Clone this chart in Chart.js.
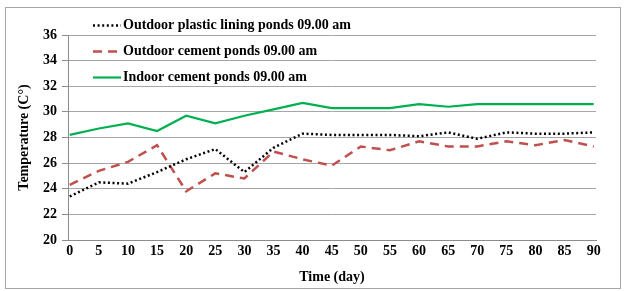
<!DOCTYPE html>
<html>
<head>
<meta charset="utf-8">
<script src="https://cdn.jsdelivr.net/npm/chart.js@4/dist/chart.umd.min.js"></script>
<style>
html,body{margin:0;padding:0;background:#fff;}
#wrap{width:627px;height:291px;position:relative;}
</style>
</head>
<body>
<div id="wrap"><canvas id="c" width="627" height="291"></canvas></div>
<script>
const days = [0,5,10,15,20,25,30,35,40,45,50,55,60,65,70,75,80,85,90];
const yTicks = [20,22,24,26,28,30,32,34,36];
const seriesNames = [
  'Outdoor plastic lining ponds 09.00 am',
  'Outdoor cement ponds 09.00 am',
  'Indoor cement ponds 09.00 am'
];
const plasticOutdoor = [23.4,24.5,24.4,25.3,26.3,27.1,25.3,27.2,28.3,28.2,28.2,28.2,28.1,28.4,27.9,28.4,28.3,28.3,28.4];
const cementOutdoor  = [24.3,25.4,26.1,27.4,23.8,25.2,24.8,26.9,26.3,25.8,27.3,27.0,27.7,27.3,27.3,27.7,27.4,27.8,27.3];
const cementIndoor   = [28.2,28.7,29.1,28.5,29.7,29.1,29.7,30.2,30.7,30.3,30.3,30.3,30.6,30.4,30.6,30.6,30.6,30.6,30.6];

const FONT = 'Liberation Serif, Times New Roman, serif';

const toXY = arr => arr.map((v,i)=>({x:days[i], y:v}));

const legendPlugin = {
  id:'customLegend',
  afterDraw(chart){
    const ctx = chart.ctx;
    const rows = [25,51,77];
    ctx.save();
    chart.data.datasets.forEach((ds,i)=>{
      const y = rows[i] + 0.5;
      ctx.beginPath();
      ctx.strokeStyle = ds.borderColor;
      ctx.lineWidth = ds.borderWidth;
      ctx.setLineDash(ds.borderDash || []);
      ctx.moveTo(93, y);
      ctx.lineTo(121, y);
      ctx.stroke();
      ctx.setLineDash([]);
      ctx.fillStyle = '#000';
      ctx.font = 'bold 14px ' + FONT;
      ctx.textBaseline = 'middle';
      ctx.textAlign = 'left';
      ctx.fillText(ds.label, 123, y);
    });
    ctx.restore();
  }
};

const borderPlugin = {
  id:'outerBorder',
  afterDraw(chart){
    const ctx = chart.ctx;
    ctx.save();
    ctx.strokeStyle = '#A6A6A6';
    ctx.lineWidth = 1;
    ctx.strokeRect(5.5, 7.5, 615, 281);
    ctx.restore();
  }
};

new Chart(document.getElementById('c'), {
  type:'line',
  data:{
    datasets:[
      {label:seriesNames[0], data:toXY(plasticOutdoor), borderColor:'#000000', borderWidth:2.5, borderDash:[2,2.6], borderCapStyle:'butt', pointRadius:0, tension:0, fill:false},
      {label:seriesNames[1], data:toXY(cementOutdoor), borderColor:'#C0504D', borderWidth:2.5, borderDash:[9,6], borderCapStyle:'butt', pointRadius:0, tension:0, fill:false},
      {label:seriesNames[2], data:toXY(cementIndoor), borderColor:'#00B050', borderWidth:2.2, pointRadius:0, tension:0, fill:false}
    ]
  },
  options:{
    responsive:false,
    animation:false,
    layout:{padding:{left:0,right:31,top:35,bottom:0}},
    plugins:{legend:{display:false}, tooltip:{enabled:false}},
    scales:{
      x:{
        type:'linear',
        min:-0.3, max:90.4,
        afterBuildTicks(scale){ scale.ticks = days.map(v=>({value:v})); },
        afterFit(scale){ scale.height = 51; },
        grid:{display:false, drawTicks:false},
        border:{display:true, color:'#8C8C8C', width:1},
        ticks:{color:'#000', font:{family:FONT, size:14, weight:'bold'}, padding:3, maxRotation:0, autoSkip:false},
        title:{display:true, text:'Time (day)', color:'#000', font:{family:FONT, size:14, weight:'bold'}, padding:{top:4,bottom:5}}
      },
      y:{
        min:20, max:36,
        afterBuildTicks(scale){ scale.ticks = yTicks.map(v=>({value:v})); },
        afterFit(scale){ scale.width = 68; },
        grid:{color:'#A6A6A6', lineWidth:1, drawTicks:true, tickLength:6, tickColor:'#8C8C8C'},
        border:{display:true, color:'#8C8C8C', width:1},
        ticks:{color:'#000', font:{family:FONT, size:14, weight:'bold'}, padding:5},
        title:{display:true, text:'Temperature (C°)', color:'#000', font:{family:FONT, size:14, weight:'bold'}, padding:{top:16,bottom:4}}
      }
    }
  },
  plugins:[legendPlugin, borderPlugin]
});
</script>
</body>
</html>
